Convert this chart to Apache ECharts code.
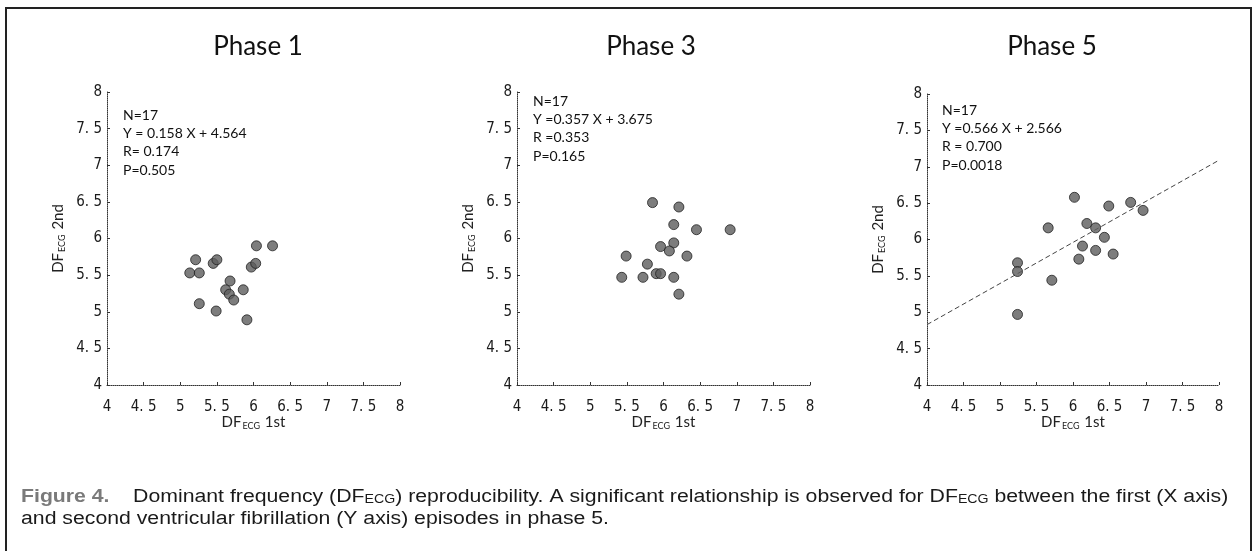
<!DOCTYPE html>
<html>
<head>
<meta charset="utf-8">
<title>Figure 4 - DF ECG reproducibility</title>
<script src="https://cdn.jsdelivr.net/npm/echarts@6/dist/echarts.min.js"></script>
<style>
    html, body { margin: 0; padding: 0; background: #fff; }
    #fig { width: 1257px; height: 551px; }
</style>
</head>
<body>
<div id="fig"></div>
<script>

// Chart data
// ------------------------------

var panelTitles = ['Phase 1', 'Phase 3', 'Phase 5'];
var axisTicks = [4, 4.5, 5, 5.5, 6, 6.5, 7, 7.5, 8];

var phase1X = [6.04, 6.26, 5.21, 5.45, 5.50, 5.97, 6.03, 5.13, 5.26, 5.68, 5.62, 5.67, 5.73, 5.86, 5.26, 5.49, 5.91];
var phase1Y = [5.90, 5.90, 5.71, 5.66, 5.71, 5.61, 5.66, 5.53, 5.53, 5.42, 5.30, 5.24, 5.16, 5.30, 5.11, 5.01, 4.89];

var phase3X = [5.85, 6.21, 6.14, 6.45, 6.91, 6.14, 5.96, 6.08, 5.49, 6.32, 5.78, 5.90, 5.96, 5.43, 5.72, 6.14, 6.21];
var phase3Y = [6.49, 6.43, 6.19, 6.12, 6.12, 5.94, 5.89, 5.83, 5.76, 5.76, 5.65, 5.52, 5.52, 5.47, 5.47, 5.47, 5.24];

var phase5X = [6.02, 6.49, 6.79, 6.96, 5.66, 6.19, 6.31, 6.43, 6.13, 6.31, 6.55, 6.08, 5.24, 5.24, 5.71, 5.24];
var phase5Y = [6.58, 6.46, 6.51, 6.40, 6.16, 6.22, 6.16, 6.03, 5.91, 5.85, 5.80, 5.73, 5.68, 5.56, 5.44, 4.97];

// regression line of phase 5, ends
var fit5X = [4, 8];
var fit5Y = [4.83, 7.09];

var stats1 = ['N=17', 'Y = 0.158 X + 4.564', 'R= 0.174', 'P=0.505'];
var stats3 = ['N=17', 'Y =0.357 X + 3.675', 'R =0.353', 'P=0.165'];
var stats5 = ['N=17', 'Y =0.566 X + 2.566', 'R = 0.700', 'P=0.0018'];


// Setup module
// ------------------------------

var DfReproducibility = function() {

    var pairs = function(xs, ys) {
        return xs.map(function(x, i) { return [x, ys[i]]; });
    };

    var tickFont = "'Liberation Sans Narrow', 'DejaVu Sans Condensed', 'Roboto Condensed', Roboto, sans-serif";
    var textFont = "Lato, 'Open Sans', sans-serif";
    var captionFont = "'Liberation Sans', Arial, sans-serif";

    var _initFigure = function() {
        if (typeof echarts == 'undefined') {
            console.warn('Warning - echarts.min.js is not loaded.');
            return;
        }

        var element = document.getElementById('fig');
        if (!element) return;

        var chart = echarts.init(element, null, { renderer: 'canvas' });

        // Panel placement
        var grids = [
            { left: 107, top: 92, width: 293, height: 293 },
            { left: 517, top: 92, width: 293, height: 293 },
            { left: 927, top: 94, width: 292, height: 291 }
        ];
        var titleCenters = [253, 646, 1047];
        var statsPos = [[123, 106], [533, 92], [942, 101]];
        var statsText = [stats1, stats3, stats5];

        var axisLineStyle = { color: '#333', width: 1, type: 'dotted' };
        var tickFormatter = function(v) {
            return String(v).replace('.', '. ');
        };

        var nameRich = {
            a: { fontFamily: textFont, fontSize: 15, color: '#222', lineHeight: 18 },
            b: { fontFamily: textFont, fontSize: 9, color: '#222', lineHeight: 18, verticalAlign: 'bottom', padding: [0, 1, 0, 1] }
        };

        var xAxes = grids.map(function(g, i) {
            return {
                gridIndex: i,
                type: 'value',
                min: axisTicks[0],
                max: axisTicks[axisTicks.length - 1],
                interval: 0.5,
                name: '{a|DF}{b|ECG}{a| 1st}',
                nameLocation: 'middle',
                nameGap: 28,
                nameMoveOverlap: false,
                nameTextStyle: { rich: nameRich },
                axisLine: { show: true, lineStyle: axisLineStyle },
                axisTick: { show: true, inside: true, length: 3, lineStyle: { color: '#333' } },
                axisLabel: {
                    margin: 15,
                    formatter: tickFormatter,
                    fontFamily: tickFont,
                    fontSize: 15,
                    color: '#1a1a1a'
                },
                splitLine: { show: false }
            };
        });

        var yAxes = grids.map(function(g, i) {
            return {
                gridIndex: i,
                type: 'value',
                min: axisTicks[0],
                max: axisTicks[axisTicks.length - 1],
                interval: 0.5,
                name: '{a|DF}{b|ECG}{a| 2nd}',
                nameLocation: 'middle',
                nameRotate: 90,
                nameGap: 40,
                nameTextStyle: { rich: nameRich },
                axisLine: { show: true, lineStyle: axisLineStyle },
                axisTick: { show: true, inside: true, length: 3, lineStyle: { color: '#333' } },
                axisLabel: {
                    margin: 5,
                    formatter: tickFormatter,
                    fontFamily: tickFont,
                    fontSize: 15,
                    color: '#1a1a1a'
                },
                splitLine: { show: false }
            };
        });

        var dotStyle = {
            color: '#5c5c5c',
            borderColor: '#222',
            borderWidth: 1
        };

        var scatter = function(idx, xs, ys) {
            return {
                type: 'scatter',
                xAxisIndex: idx,
                yAxisIndex: idx,
                data: pairs(xs, ys),
                symbol: 'circle',
                symbolSize: 10,
                itemStyle: dotStyle,
                silent: true,
                z: 3
            };
        };

        var titles = panelTitles.map(function(t, i) {
            return {
                text: t,
                left: titleCenters[i],
                top: 29,
                textAlign: 'center',
                textStyle: { fontFamily: textFont, fontWeight: 'normal', fontSize: 26, color: '#111' }
            };
        });

        var graphics = [
            // figure frame
            {
                type: 'rect',
                shape: { x: 6, y: 8, width: 1245, height: 600 },
                style: { fill: 'none', stroke: '#222', lineWidth: 2 },
                silent: true
            }
        ];

        statsText.forEach(function(lines, i) {
            graphics.push({
                type: 'text',
                left: statsPos[i][0],
                top: statsPos[i][1],
                style: {
                    text: lines.join('\n'),
                    font: '14px ' + textFont,
                    fill: '#111',
                    lineHeight: 18.3
                },
                silent: true
            });
        });

        // caption, stretched a little to the width of the printed one
        graphics.push({
            type: 'text',
            x: 21,
            y: 486,
            scaleX: 1.18,
            style: {
                text: '{f|Figure 4.}{t|    Dominant frequency (DF}{s|ECG}{t|) reproducibility. A significant relationship is observed for DF}{s|ECG}{t| between the first (X axis)}\n' +
                      '{t|and second ventricular fibrillation (Y axis) episodes in phase 5.}',
                rich: {
                    f: { fontFamily: captionFont, fontWeight: 'bold', fontSize: 18, fill: '#7a7a7a', lineHeight: 22 },
                    t: { fontFamily: captionFont, fontSize: 18, fill: '#1a1a1a', lineHeight: 22 },
                    s: { fontFamily: captionFont, fontSize: 12, fill: '#1a1a1a', lineHeight: 22, verticalAlign: 'bottom', padding: [0, 0, 2, 0] }
                }
            },
            silent: true
        });

        chart.setOption({
            animation: false,
            backgroundColor: '#fff',
            textStyle: { fontFamily: textFont },
            title: titles,
            grid: grids,
            xAxis: xAxes,
            yAxis: yAxes,
            graphic: graphics,
            series: [
                scatter(0, phase1X, phase1Y),
                scatter(1, phase3X, phase3Y),
                scatter(2, phase5X, phase5Y),
                {
                    type: 'line',
                    xAxisIndex: 2,
                    yAxisIndex: 2,
                    data: pairs(fit5X, fit5Y),
                    showSymbol: false,
                    symbol: 'none',
                    silent: true,
                    lineStyle: { color: '#444', width: 1, type: [5, 3] },
                    z: 2
                }
            ]
        });

        window.addEventListener('resize', function() {
            chart.resize();
        });
    };

    return {
        init: function() {
            _initFigure();
        }
    };
}();


// Initialize module
// ------------------------------

document.addEventListener('DOMContentLoaded', function() {
    DfReproducibility.init();
});
</script>
</body>
</html>
